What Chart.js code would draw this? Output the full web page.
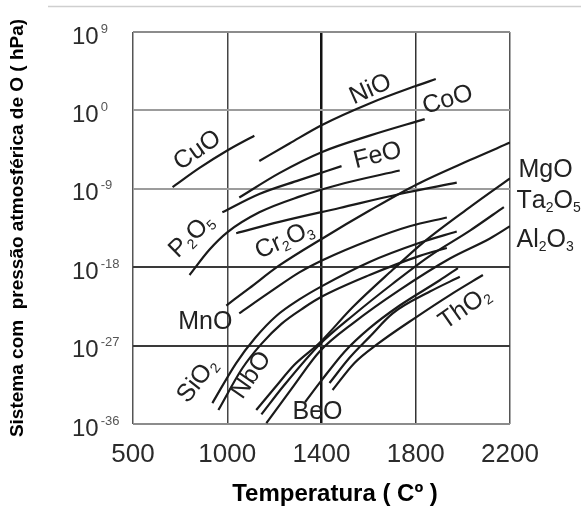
<!DOCTYPE html>
<html>
<head>
<meta charset="utf-8">
<script src="https://cdn.jsdelivr.net/npm/chart.js@4.4.1/dist/chart.umd.min.js"></script>
<style>
  html, body { margin: 0; padding: 0; background: #fff; }
  canvas { display: block; }
</style>
</head>
<body>
<canvas id="grafico" width="581" height="506"></canvas>
<script>
// ---------------------------------------------------------
// Dados (temperatura em °C, expoente de 10 da pressão de O)
// ---------------------------------------------------------
const xTickLabels = ['500', '1000', '1400', '1800', '2200'];
const tempTicks = [500, 1000, 1400, 1800, 2200];
const yTickExps = [-36, -27, -18, -9, 0, 9];

const curvaCuO = [[710, -8.8], [853, -6.6], [1000, -4.6], [1115, -2.9]];
const curvaNiO = [[1136, -5.8], [1264, -3.8], [1400, -1.7], [1604, 0.8], [1800, 2.8], [1885, 3.6]];
const curvaCoO = [[1051, -10.0], [1221, -7.2], [1400, -4.8], [1604, -2.9], [1838, -1.0]];
const curvaAux = [[974, -11.7], [1136, -9.6], [1306, -8.0], [1485, -6.4]];
const curvaFeO = [[800, -18.9], [905, -16.0], [1000, -14.0], [1136, -11.7], [1306, -9.9], [1477, -8.5], [1732, -6.9]];
const curvaCr2O3 = [[1038, -14.1], [1221, -12.8], [1477, -11.2], [1732, -9.6], [1974, -8.3]];
const curvaMnO1 = [[995, -22.4], [1094, -20.4], [1221, -17.8], [1404, -14.7], [1604, -11.5], [1804, -8.5], [2030, -5.7], [2200, -3.7]];
const curvaMnO2 = [[1051, -23.3], [1179, -20.9], [1306, -18.6], [1404, -17.2], [1604, -14.9], [1774, -13.3], [1932, -12.3]];
const curvaSiO2a = [[921, -33.6], [1038, -29.0], [1119, -26.1], [1208, -23.6], [1306, -21.7], [1400, -20.2], [1604, -17.4], [1817, -15.2], [1974, -13.9]];
const curvaSiO2b = [[953, -34.4], [1064, -29.6], [1145, -26.8], [1230, -24.5], [1328, -22.6], [1400, -21.4], [1604, -18.9], [1817, -16.7], [1932, -15.8]];
const curvaMgO = [[1123, -34.4], [1200, -31.9], [1285, -29.2], [1391, -26.7], [1532, -22.6], [1702, -18.3], [1830, -15.2], [2030, -11.1], [2200, -7.8]];
const curvaTa2O5 = [[1145, -34.9], [1243, -31.5], [1391, -26.9], [1540, -23.4], [1702, -19.9], [1860, -16.7], [2030, -13.8], [2174, -11.1]];
const curvaAl2O3 = [[1166, -35.9], [1285, -31.5], [1391, -27.7], [1540, -24.3], [1732, -20.6], [1945, -17.0], [2115, -14.7], [2200, -13.3]];
const curvaBeO = [[1330, -33.5], [1400, -31.0], [1498, -27.7], [1604, -25.0], [1732, -22.4], [1902, -19.5], [1979, -18.1]];
const curvaThO2a = [[1434, -31.3], [1519, -28.4], [1604, -26.0], [1702, -23.3], [1860, -20.8], [1987, -19.1]];
const curvaThO2b = [[1447, -32.1], [1540, -29.0], [1634, -26.9], [1804, -23.7], [1945, -21.2], [2085, -18.9]];

const curvas = [curvaCuO, curvaNiO, curvaCoO, curvaAux, curvaFeO, curvaCr2O3, curvaMnO1, curvaMnO2,
  curvaSiO2a, curvaSiO2b, curvaMgO, curvaTa2O5, curvaAl2O3, curvaBeO, curvaThO2a, curvaThO2b];

// rótulos dos óxidos ('_' = próximo caractere subscrito)
const rotulos = [
  { txt: 'CuO', t: 842, e: -4.6, rot: -35 },
  { txt: 'NiO', t: 1608, e: 2.4, rot: -24 },
  { txt: 'CoO', t: 1936, e: 1.2, rot: -17 },
  { txt: 'FeO', t: 1638, e: -5.2, rot: -14 },
  { txt: 'P_2O_5', t: 810, e: -14.4, rot: -44 },
  { txt: 'Cr_2O_3', t: 1243, e: -14.9, rot: -24 },
  { txt: 'MnO', t: 884, e: -24.3, rot: 0 },
  { txt: 'SiO_2', t: 842, e: -31.0, rot: -52 },
  { txt: 'NbO', t: 1102, e: -30.4, rot: -55 },
  { txt: 'BeO', t: 1383, e: -34.6, rot: 0 },
  { txt: 'ThO_2', t: 2008, e: -22.7, rot: -35 },
  { txt: 'MgO', t: 2236, e: -6.9, rot: 0, esquerda: true },
  { txt: 'Ta_2O_5', t: 2228, e: -10.4, rot: 0, esquerda: true },
  { txt: 'Al_2O_3', t: 2228, e: -14.9, rot: 0, esquerda: true }
];

// ---------------------------------------------------------
// Escala de temperatura (os ticks são equidistantes)
// ---------------------------------------------------------
function posTemp(t) {
  let i = 0;
  while (i < tempTicks.length - 2 && t > tempTicks[i + 1]) i++;
  return i + (t - tempTicks[i]) / (tempTicks[i + 1] - tempTicks[i]);
}

const FONTE = '"Liberation Sans", Arial, sans-serif';

function partesTexto(txt) {
  const partes = [];
  for (let i = 0; i < txt.length; i++) {
    if (txt[i] === '_') { partes.push({ t: txt[i + 1], sub: true }); i++; }
    else partes.push({ t: txt[i], sub: false });
  }
  return partes;
}

function desenharRotulo(ctx, r, x, y) {
  const partes = partesTexto(r.txt);
  const fN = '25px ' + FONTE, fS = '14px ' + FONTE;
  let w = 0;
  partes.forEach(p => { ctx.font = p.sub ? fS : fN; p.w = ctx.measureText(p.t).width; w += p.w; });
  ctx.save();
  ctx.translate(x, y);
  ctx.rotate(r.rot * Math.PI / 180);
  ctx.fillStyle = '#222';
  ctx.textBaseline = 'middle';
  ctx.textAlign = 'left';
  let cx = r.esquerda ? 0 : -w / 2;
  partes.forEach(p => {
    ctx.font = p.sub ? fS : fN;
    ctx.fillText(p.t, cx, p.sub ? 7 : 0);
    cx += p.w;
  });
  ctx.restore();
}

const pluginRotulos = {
  id: 'rotulos',
  afterDraw(chart) {
    const ctx = chart.ctx;
    const xs = chart.scales.x, ys = chart.scales.y;
    // linha cinza no topo
    ctx.save();
    ctx.strokeStyle = '#cfcfcf';
    ctx.lineWidth = 1.5;
    ctx.beginPath(); ctx.moveTo(48, 6.5); ctx.lineTo(581, 6.5); ctx.stroke();
    ctx.restore();

    // rótulos do eixo y: 10 com expoente
    ctx.save();
    ctx.textAlign = 'left';
    ctx.textBaseline = 'middle';
    yTickExps.forEach(v => {
      const y = ys.getPixelForValue(v);
      ctx.font = '24px ' + FONTE;
      ctx.fillStyle = '#2b2b2b';
      ctx.fillText('10', 72, y + 5);
      const w = ctx.measureText('10').width;
      ctx.font = '13px ' + FONTE;
      ctx.fillStyle = '#555';
      ctx.fillText(String(v), 72 + w + 2, y - 3);
    });

    // título do eixo x
    ctx.font = 'bold 24px ' + FONTE;
    ctx.fillStyle = '#000';
    ctx.textAlign = 'center';
    ctx.fillText('Temperatura ( Cº )', 335, 494);
    ctx.restore();

    rotulos.forEach(r => desenharRotulo(ctx, r, xs.getPixelForValue(posTemp(r.t)), ys.getPixelForValue(r.e)));
  }
};

const corGradeY = { '-36': '#8c8c8c', '-27': '#3a3a3a', '-18': '#3a3a3a', '-9': '#9c9c9c', '0': '#9c9c9c', '9': '#8c8c8c' };
const corGradeX = ['#555', '#444', '#111', '#333', '#555'];

new Chart(document.getElementById('grafico').getContext('2d'), {
  type: 'line',
  data: {
    datasets: curvas.map(c => ({
      data: c.map(p => ({ x: posTemp(p[0]), y: p[1] })),
      borderColor: '#1a1a1a',
      borderWidth: 2.2,
      pointRadius: 0,
      fill: false,
      cubicInterpolationMode: 'monotone'
    }))
  },
  options: {
    responsive: false,
    animation: false,
    devicePixelRatio: 1,
    layout: { padding: { top: 32, right: 71, left: 0, bottom: 0 } },
    plugins: { legend: { display: false }, tooltip: { enabled: false } },
    scales: {
      x: {
        type: 'linear', min: 0, max: 4,
        border: { display: false },
        grid: {
          drawTicks: false,
          color: c => corGradeX[c.tick ? c.tick.value : 0],
          lineWidth: c => (c.tick && c.tick.value === 2) ? 2.5 : 1.5
        },
        ticks: {
          stepSize: 1, padding: 15, color: '#2b2b2b',
          font: { size: 26, family: FONTE },
          callback: v => xTickLabels[v]
        },
        afterFit: s => { s.height = 82; }
      },
      y: {
        type: 'linear', min: -36, max: 9,
        border: { display: false },
        grid: {
          drawTicks: false,
          color: c => corGradeY[String(c.tick ? c.tick.value : 9)],
          lineWidth: 2
        },
        ticks: { stepSize: 9, display: false },
        title: {
          display: true, text: 'Sistema com  pressão atmosférica de O ( hPa)', color: '#000',
          font: { size: 19, weight: 'bold', family: FONTE, lineHeight: 1 },
          padding: { top: 8, bottom: 0 }
        },
        afterFit: s => { s.width = 133; }
      }
    }
  },
  plugins: [pluginRotulos]
});
</script>
</body>
</html>
